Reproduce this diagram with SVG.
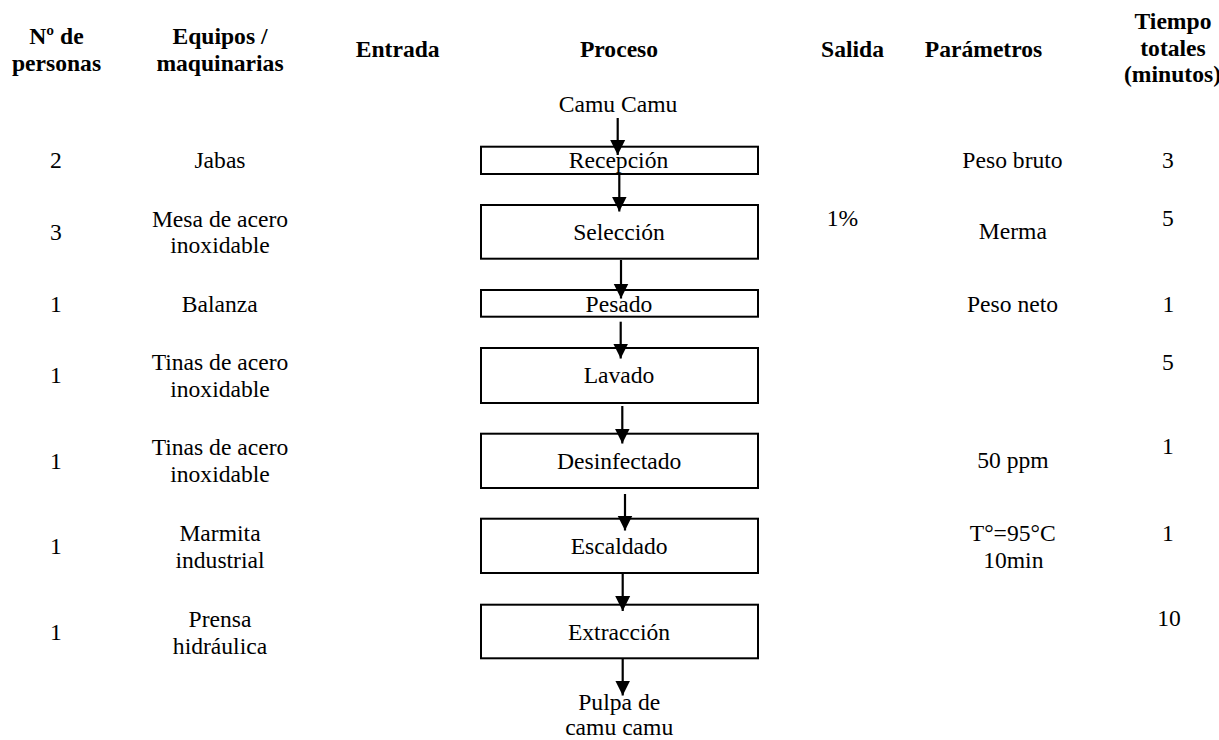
<svg xmlns="http://www.w3.org/2000/svg" width="1219" height="740" viewBox="0 0 1219 740">
<defs>
<style>
text{font-family:"Liberation Serif","Times New Roman",serif;font-size:23.6px;fill:#000;text-anchor:middle}
.h{font-weight:bold}
.box{fill:#fff;stroke:#000;stroke-width:2}
.conn line{stroke:#000;stroke-width:2.2}
</style>
<marker id="ah" markerUnits="userSpaceOnUse" markerWidth="16" markerHeight="16" viewBox="0 0 16 16" refX="15" refY="8" orient="auto">
<path d="M0,0.5 L15,8 L0,15.5 z" fill="#000"/>
</marker>
</defs>
<rect width="1219" height="740" fill="#fff"/>
<g id="headers" class="h">
<text class="h" x="56.5" y="44.3">Nº de</text>
<text class="h" x="56.5" y="71">personas</text>
<text class="h" x="220" y="44.3">Equipos /</text>
<text class="h" x="220" y="71">maquinarias</text>
<text class="h" x="397.7" y="57">Entrada</text>
<text class="h" x="619" y="57">Proceso</text>
<text class="h" x="852.5" y="57">Salida</text>
<text class="h" x="983.5" y="57">Parámetros</text>
<text class="h" x="1173" y="29">Tiempo</text>
<text class="h" x="1173" y="55.5">totales</text>
<text class="h" x="1172.5" y="82.2">(minutos)</text>
</g>
<g id="nodes">
<g id="n-input"><text x="618" y="111.7">Camu Camu</text></g>
<g id="n-recepcion"><rect class="box" x="481" y="146.7" width="277" height="27.3"/><text x="618.5" y="167.7">Recepción</text></g>
<g id="n-seleccion"><rect class="box" x="481" y="205" width="277" height="53.7"/><text x="619" y="240">Selección</text></g>
<g id="n-pesado"><rect class="box" x="481" y="290" width="277" height="26.7"/><text x="619" y="311.7">Pesado</text></g>
<g id="n-lavado"><rect class="box" x="481" y="348" width="277" height="55"/><text x="619" y="383.3">Lavado</text></g>
<g id="n-desinfectado"><rect class="box" x="481" y="433.7" width="277" height="54.3"/><text x="619.2" y="469.3">Desinfectado</text></g>
<g id="n-escaldado"><rect class="box" x="481" y="518.7" width="277" height="54.3"/><text x="619.2" y="554">Escaldado</text></g>
<g id="n-extraccion"><rect class="box" x="481" y="604.7" width="277" height="53.6"/><text x="619" y="640">Extracción</text></g>
<g id="n-output"><text x="619.2" y="710">Pulpa de</text><text x="619.2" y="735">camu camu</text></g>
</g>
<g id="connectors" class="conn">
<line x1="617.7" y1="118" x2="617.7" y2="155" marker-end="url(#ah)"/>
<line x1="619.3" y1="175" x2="619.3" y2="211.5" marker-end="url(#ah)"/>
<line x1="621" y1="260" x2="621" y2="298.5" marker-end="url(#ah)"/>
<line x1="620.7" y1="321.7" x2="620.7" y2="358.5" marker-end="url(#ah)"/>
<line x1="622.3" y1="406" x2="622.3" y2="443.5" marker-end="url(#ah)"/>
<line x1="625" y1="494" x2="625" y2="530.5" marker-end="url(#ah)"/>
<line x1="622.7" y1="574" x2="622.7" y2="611" marker-end="url(#ah)"/>
<line x1="622.7" y1="659" x2="622.7" y2="695.5" marker-end="url(#ah)"/>
</g>
<g id="col-personas">
<text x="56" y="168.3">2</text>
<text x="56" y="240">3</text>
<text x="56" y="311.7">1</text>
<text x="56" y="383.3">1</text>
<text x="56" y="469.3">1</text>
<text x="56" y="554">1</text>
<text x="56" y="640">1</text>
</g>
<g id="col-equipos">
<text x="220" y="168.3">Jabas</text>
<text x="220" y="226.7">Mesa de acero</text>
<text x="220" y="253.3">inoxidable</text>
<text x="219.7" y="311.7">Balanza</text>
<text x="220" y="370">Tinas de acero</text>
<text x="220" y="396.7">inoxidable</text>
<text x="220" y="455">Tinas de acero</text>
<text x="220" y="482">inoxidable</text>
<text x="220" y="541">Marmita</text>
<text x="220" y="568">industrial</text>
<text x="220" y="626.7">Prensa</text>
<text x="220" y="654">hidráulica</text>
</g>
<g id="col-salida">
<text x="842.5" y="226">1%</text>
</g>
<g id="col-parametros">
<text x="1012.5" y="168.3">Peso bruto</text>
<text x="1012.8" y="239.3">Merma</text>
<text x="1012.5" y="311.7">Peso neto</text>
<text x="1013" y="468.3">50 ppm</text>
<text x="1012.7" y="541">T°=95°C</text>
<text x="1013.3" y="568.3">10min</text>
</g>
<g id="col-tiempo">
<text x="1168" y="168.3">3</text>
<text x="1168" y="226">5</text>
<text x="1168.3" y="311.7">1</text>
<text x="1168" y="370">5</text>
<text x="1168" y="454.3">1</text>
<text x="1168" y="540.7">1</text>
<text x="1169" y="625.7">10</text>
</g>
</svg>
